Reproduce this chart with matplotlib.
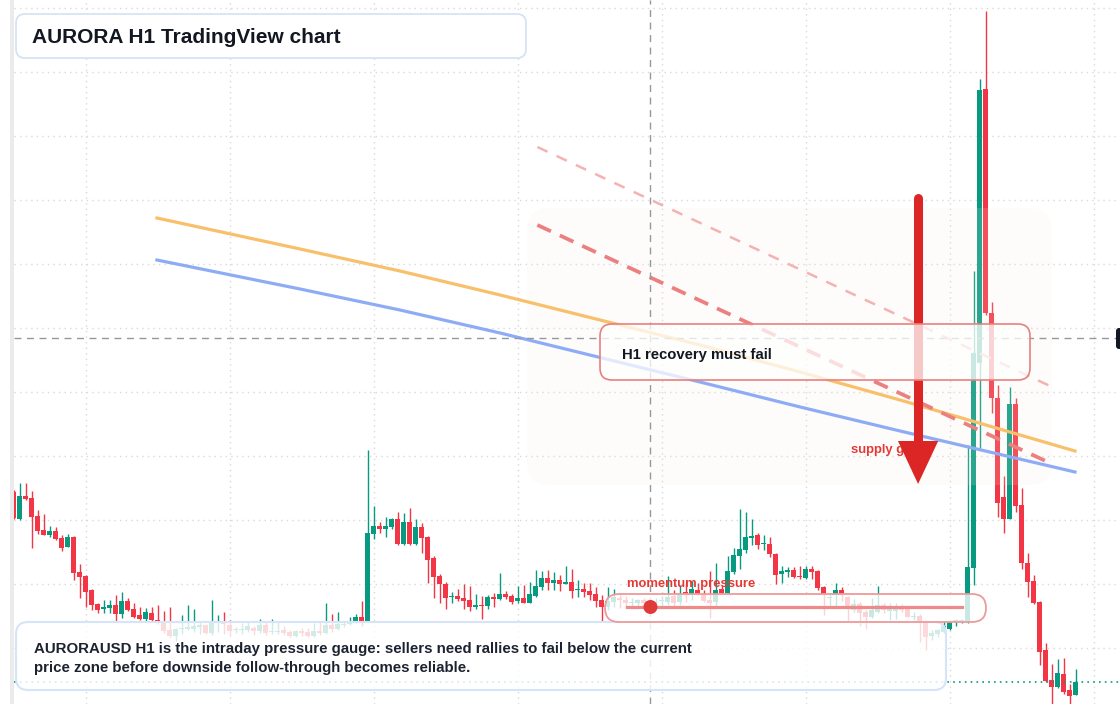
import numpy as np
import matplotlib.pyplot as plt
import matplotlib.transforms as mtransforms
from matplotlib.patches import FancyBboxPatch, Circle, Rectangle
from matplotlib.lines import Line2D

# ---- data (price units) ----
opens = [220, 193, 216, 214, 196, 182, 177, 181, 174, 165, 175, 140, 136, 122, 108, 103, 104, 107, 98, 111,
         103, 97, 93, 99, 92, 89, 82, 76, 83, 83, 83, 85, 87, 79, 90, 91, 87, 82, 82, 82,
         84, 81, 87, 80, 80, 82, 80, 76, 81, 80, 76, 81, 79, 87, 83, 87, 88, 90, 95, 91,
         178, 186, 183, 185, 193, 168, 190, 168, 185, 175, 154, 136, 128, 115, 116, 114, 112, 105, 107, 106,
         115, 113, 118, 116, 111, 114, 109, 116, 125, 134, 129, 132, 128, 130, 122, 123, 121, 118, 112, 105,
         110, 114, 112, 109, 109, 112, 111, 109, 111, 110, 116, 110, 120, 118, 122, 118, 112, 110, 123, 119,
         140, 156, 162, 174, 177, 168, 168, 158, 138, 140, 142, 136, 134, 143, 141, 125, 114, 117, 122, 115,
         102, 108, 100, 95, 100, 107, 101, 101, 106, 103, 95, 96, 90, 76, 78, 80, 83, 91, 91, 91,
         144, 349, 623, 399, 314, 215, 193, 308, 207, 149, 131, 110, 62, 32, 25, 38, 22, 17]
highs = [222, 229, 229, 221, 202, 198, 186, 185, 177, 178, 176, 148, 137, 123, 109, 112, 112, 117, 120, 114,
         109, 105, 104, 105, 107, 101, 105, 84, 97, 107, 103, 90, 88, 112, 97, 100, 92, 85, 89, 91,
         86, 93, 91, 93, 90, 86, 82, 82, 84, 84, 89, 90, 109, 98, 100, 90, 95, 98, 111, 262,
         206, 190, 195, 194, 200, 199, 204, 193, 189, 176, 156, 138, 130, 120, 123, 128, 126, 118, 116, 117,
         119, 139, 121, 118, 126, 127, 130, 142, 141, 142, 140, 137, 146, 143, 132, 129, 129, 125, 117, 125,
         123, 118, 116, 114, 113, 114, 114, 114, 116, 136, 122, 127, 129, 131, 129, 122, 141, 149, 127, 156,
         164, 203, 200, 193, 179, 177, 175, 159, 146, 145, 145, 146, 146, 146, 142, 126, 119, 129, 125, 116,
         113, 110, 102, 114, 126, 109, 109, 109, 108, 106, 100, 98, 92, 82, 83, 91, 92, 93, 93, 267,
         441, 633, 701, 410, 327, 236, 325, 314, 224, 159, 137, 111, 69, 48, 53, 54, 28, 43]
lows = [193, 192, 212, 164, 178, 177, 175, 172, 161, 165, 132, 114, 105, 102, 99, 99, 99, 90, 94, 101,
        94, 92, 91, 91, 88, 79, 75, 71, 78, 82, 80, 78, 78, 77, 80, 78, 76, 79, 78, 80,
        77, 79, 77, 78, 78, 77, 75, 75, 76, 75, 75, 77, 78, 80, 82, 85, 87, 89, 86, 90,
        173, 179, 175, 183, 167, 167, 167, 167, 159, 129, 114, 109, 103, 109, 111, 103, 101, 103, 93, 103,
        105, 112, 113, 108, 109, 109, 109, 115, 122, 122, 122, 121, 128, 114, 115, 115, 112, 105, 91, 102,
        105, 104, 106, 105, 105, 106, 104, 105, 105, 107, 105, 107, 110, 112, 117, 110, 94, 105, 118, 118,
        138, 143, 159, 167, 163, 162, 155, 128, 129, 135, 134, 133, 133, 133, 122, 97, 104, 105, 111, 90,
        100, 86, 83, 94, 99, 99, 92, 93, 100, 95, 92, 70, 62, 72, 75, 79, 82, 86, 89, 89,
        127, 264, 397, 299, 195, 179, 193, 200, 143, 115, 108, 47, 30, 8, 24, 18, 8, 17]
closes = [194, 216, 213, 195, 181, 177, 181, 173, 164, 175, 139, 135, 120, 107, 102, 105, 107, 98, 111, 102,
          95, 93, 100, 92, 90, 81, 76, 83, 84, 85, 86, 87, 79, 90, 91, 88, 81, 83, 83, 86,
          81, 87, 79, 81, 81, 79, 76, 81, 79, 76, 81, 79, 87, 83, 88, 88, 91, 95, 91, 179,
          186, 183, 186, 193, 168, 190, 168, 185, 174, 152, 135, 128, 114, 116, 113, 111, 105, 107, 106, 115,
          113, 118, 115, 110, 114, 109, 118, 126, 134, 129, 132, 128, 130, 121, 123, 120, 117, 111, 105, 111,
          115, 112, 109, 110, 112, 109, 107, 110, 112, 115, 109, 118, 118, 123, 118, 111, 109, 122, 119, 141,
          157, 163, 175, 176, 167, 169, 158, 137, 141, 142, 135, 135, 143, 140, 124, 118, 115, 122, 118, 104,
          108, 99, 95, 102, 107, 102, 104, 105, 102, 95, 96, 90, 75, 79, 82, 86, 90, 92, 92, 145,
          359, 622, 399, 314, 209, 193, 308, 206, 149, 130, 109, 60, 31, 25, 39, 20, 16, 30]

# moving averages (candle index, price)
ema_x = [23.9, 47.75, 64.4, 81.1, 114.4, 131.1, 147.75, 176.9]
ema_fast_y = [494, 463, 441, 417, 367, 340, 312, 261]
ema_slow_y = [452, 423, 402, 379, 330, 305, 281, 240]

# descending resistance lines
res_main_x = [87.3, 173.1]
res_main_y = [487, 248]
res_outer_x = [87.3, 173.1]
res_outer_y = [565, 325]

crosshair_x = 106.1
crosshair_y = 374
last_price = 30
arrow_x = 150.75
arrow_top, arrow_head, arrow_tip = 514, 271, 228
momentum_level = 0.07

title = "AURORA H1 TradingView chart"
note_lines = ["AURORAUSD H1 is the intraday pressure gauge: sellers need rallies to fail below the current",
              "price zone before downside follow-through becomes reliable."]
box_label = "H1 recovery must fail"
gauge_label = "momentum pressure"
zone_label = "supply gate"

UP = "#089981"
DOWN = "#f23645"
RED_TXT = "#e53935"
INK = "#131722"
W, H = 1120, 704

plt.rcParams['font.family'] = ['Liberation Sans', 'DejaVu Sans']

fig = plt.figure(figsize=(W / 100, H / 100), dpi=100)
fig.patch.set_facecolor("white")
ax = fig.add_axes([14 / W, 0, (W - 14) / W, 1])
ax.set_xlim(0.08, 184.4)
ax.set_ylim(8, 712)
ax.set_xticks(np.arange(12, 185, 24))
ax.set_yticks(np.arange(64, 712, 64))
ax.tick_params(left=False, bottom=False, labelleft=False, labelbottom=False)
for s in ax.spines.values():
    s.set_visible(False)
ax.grid(True, color="#d9d9d9", lw=1, linestyle=(0, (1, 3)), zorder=0)
ax.set_axisbelow(True)

# candles
o = np.array(opens, float)
h = np.array(highs, float)
l = np.array(lows, float)
c = np.array(closes, float)
idx = np.arange(len(o))
cols = np.where(c >= o, UP, DOWN)
bottom = np.minimum(o, c)
height = np.maximum(np.abs(c - o), 1.2)
ax.vlines(idx, l, h, colors=cols, lw=1, zorder=2)
ax.bar(idx, height, bottom=bottom, width=0.82, color=cols, linewidth=0, zorder=3)

ident = mtransforms.IdentityTransform()


def px_box(x0, y0, x1, y1, r, fc, ec="none", lw=1.0, z=10, on_ax=False):
    p = FancyBboxPatch((x0, H - y1), x1 - x0, y1 - y0,
                       boxstyle=f"round,pad=0,rounding_size={r}",
                       fc=fc, ec=ec, lw=lw, transform=ident, zorder=z, clip_on=False)
    if on_ax:
        ax.add_patch(p)
    else:
        fig.add_artist(p)
    return p


# faint zone behind the setup
px_box(527, 208, 1052, 485, 22, (248 / 255, 235 / 255, 222 / 255, 0.15), z=4, on_ax=True)

# averages and trendlines
ax.plot(ema_x, ema_fast_y, color="#f8c06a", lw=2.3, zorder=5, solid_joinstyle="round")
ax.plot(ema_x, ema_slow_y, color="#8eacf6", lw=2.3, zorder=5, solid_joinstyle="round")
ax.plot(res_outer_x, res_outer_y, color="#f4b2b2", lw=1.8, linestyle=(0, (4.5, 4)), zorder=5)
ax.plot(res_main_x, res_main_y, color="#ec8080", lw=2.7, linestyle=(0, (4, 2.6)), zorder=5)

# crosshair and last price line
ax.axvline(crosshair_x, color="#9598a1", lw=1, linestyle=(0, (5, 4)), zorder=6)
ax.axhline(crosshair_y, color="#9598a1", lw=1, linestyle=(0, (5, 4)), zorder=6)
ax.axhline(last_price, color=UP, lw=1.2, linestyle=(0, (1, 2.5)), zorder=6)

# supply gate label + arrow
ax.text(arrow_x - 11.2, arrow_head - 12, zone_label, color=RED_TXT, fontsize=9.4,
        fontweight="bold", ha="left", va="baseline", zorder=7)
ax.plot([arrow_x, arrow_x], [arrow_top, arrow_head], color="#dc2626", lw=6.5,
        solid_capstyle="round", zorder=8)
ax.fill([arrow_x - 3.35, arrow_x + 3.35, arrow_x], [arrow_head, arrow_head, arrow_tip],
        color="#dc2626", lw=0, zorder=8)

# left strip and cut-off price label
fig.add_artist(Rectangle((10, 0), 4, H, transform=ident, fc="#ebebeb", ec="none", zorder=1))
px_box(1116, 328, 1124, 349, 3, INK, z=12)

# overlay boxes
px_box(16, 14, 526, 58, 9, "white", ec="#d3e1f5", lw=1.2)
px_box(16, 622, 946, 690, 12, (1, 1, 1, 0.82), ec="#d6e4fa", lw=1.5)
px_box(605, 594, 986, 622, 14, (1, 1, 1, 0.78), ec="#ef9a9a", lw=1.3)
px_box(600, 324, 1030, 380, 12, (1, 1, 1, 0.75), ec="#e88080", lw=1.2)

# momentum gauge
gx0, gx1, gy = 627, 962, H - 607
fig.add_artist(Line2D([gx0, gx1], [gy, gy], transform=ident, color="#ef8a8a", lw=2.3, zorder=11))
dot_x = gx0 + momentum_level * (gx1 - gx0)
fig.add_artist(Circle((dot_x, gy), 7, transform=ident, fc="#e03a3a", ec="none", zorder=12))

# texts
fig.text(32, H - 43, title, transform=ident, fontsize=15, fontweight="bold", color=INK,
         va="baseline", zorder=13)
fig.text(34, H - 653, note_lines[0], transform=ident, fontsize=10.8, fontweight="bold",
         color="#1c2230", va="baseline", zorder=13)
fig.text(34, H - 672, note_lines[1], transform=ident, fontsize=10.8, fontweight="bold",
         color="#1c2230", va="baseline", zorder=13)
fig.text(622, H - 359, box_label, transform=ident, fontsize=10.7, fontweight="bold", color=INK,
         va="baseline", zorder=13)
fig.text(627, H - 587, gauge_label, transform=ident, fontsize=9.4, fontweight="bold",
         color=RED_TXT, va="baseline", zorder=13)

fig.savefig("out.png", dpi=100)
